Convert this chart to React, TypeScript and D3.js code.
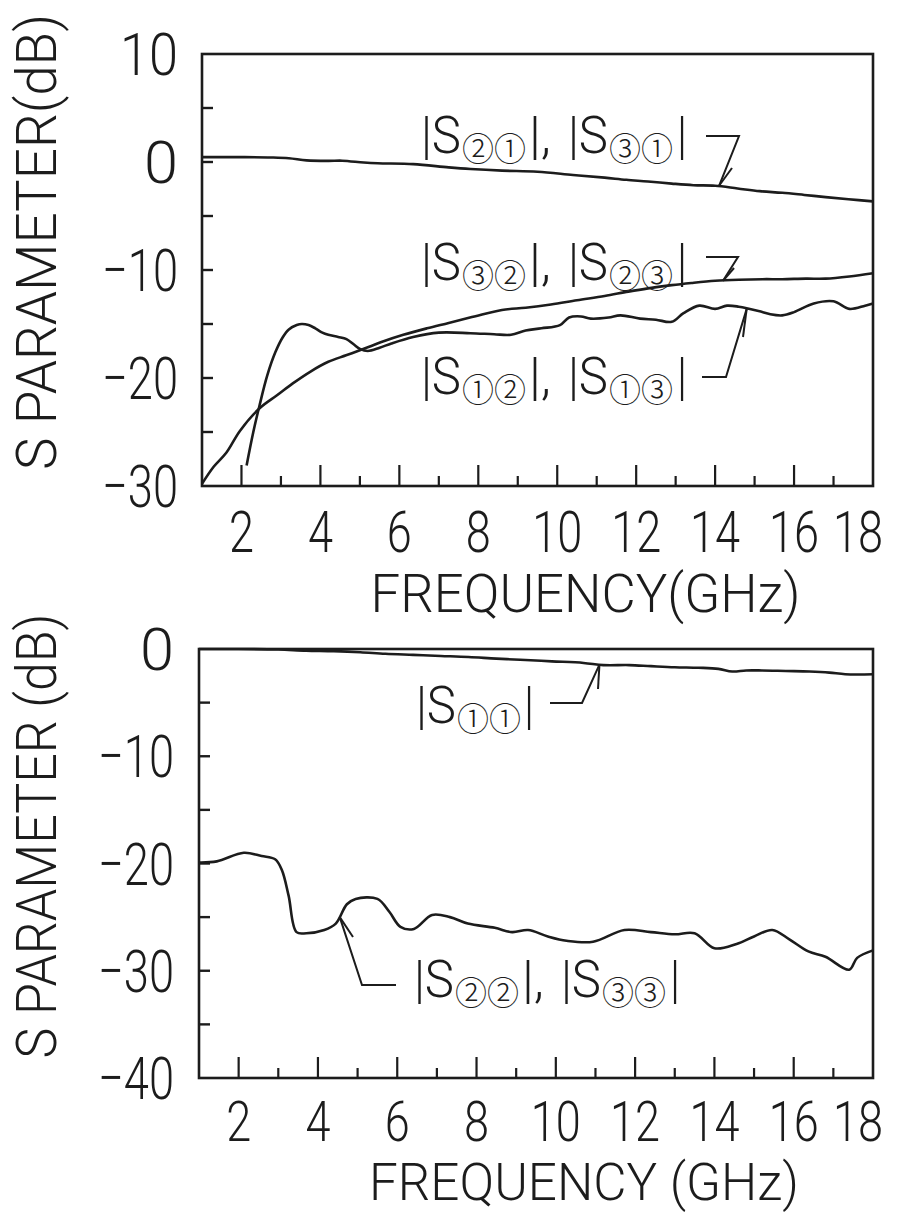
import React from "react";
import * as d3 from "d3";

// ---------- data ----------
const freqTickLabels = [2, 4, 6, 8, 10, 12, 14, 16, 18];
const freqMinorTicks = [3, 5, 7, 9, 11, 13, 15, 17];
const topYLabels = [10, 0, -10, -20, -30];
const topYTicks = [5, 0, -5, -10, -15, -20, -25];
const botYLabels = [0, -10, -20, -30, -40];
const botYTicks = [-5, -10, -15, -20, -25, -30, -35];

// |S21|,|S31|
const s21: [number, number][] = [
  [1, 0.45], [2, 0.45], [2.75, 0.42], [3.2, 0.35], [3.65, 0.15], [4.2, 0.1], [4.55, 0.12],
  [5.1, -0.05], [5.45, -0.12], [6.35, -0.2], [7.25, -0.5], [7.8, -0.65], [8.6, -0.8],
  [9.5, -0.9], [10.4, -1.2], [11.2, -1.45], [11.75, -1.65], [12.3, -1.8], [12.9, -2.0],
  [13.45, -2.15], [14.0, -2.2], [14.57, -2.45], [15.13, -2.7], [15.7, -2.85], [16.26, -3.05],
  [16.8, -3.25], [17.38, -3.45], [18, -3.65],
];
// |S32|,|S23|
const s32: [number, number][] = [
  [1, -29.8], [1.3, -28.2], [1.62, -26.9], [1.96, -24.9], [2.46, -22.8], [2.9, -21.6],
  [3.3, -20.5], [3.75, -19.4], [4.2, -18.5], [4.65, -17.9], [5.1, -17.3], [5.6, -16.6],
  [6.1, -16.0], [6.7, -15.4], [7.25, -14.9], [7.9, -14.3], [8.6, -13.7], [9.2, -13.5],
  [9.84, -13.2], [10.5, -12.8], [11.2, -12.4], [11.8, -12.0], [12.3, -11.7], [12.9, -11.4],
  [13.4, -11.2], [14.0, -11.0], [14.6, -10.9], [15.2, -10.85], [15.7, -10.85], [16.3, -10.8],
  [16.8, -10.8], [17.4, -10.6], [18, -10.3],
];
// |S12|,|S13|
const s12: [number, number][] = [
  [2.13, -28.1], [2.3, -25], [2.46, -22.5], [2.65, -19.8], [2.86, -17.6], [3.05, -16.2],
  [3.2, -15.5], [3.4, -15.1], [3.53, -15.0], [3.7, -15.1], [3.87, -15.4], [4.05, -15.8],
  [4.2, -16.0], [4.45, -16.2], [4.66, -16.4], [4.85, -16.9], [5.0, -17.3], [5.2, -17.5],
  [5.5, -17.2], [5.8, -16.8], [6.35, -16.2], [7.0, -15.8], [7.8, -15.85], [8.4, -15.95],
  [8.83, -16.0], [9.2, -15.6], [9.6, -15.4], [10.07, -15.1], [10.3, -14.4], [10.6, -14.3],
  [10.85, -14.5], [11.3, -14.4], [11.6, -14.2], [12.1, -14.5], [12.5, -14.6], [12.9, -14.8],
  [13.2, -14.0], [13.6, -13.3], [14.0, -13.6], [14.3, -13.3], [14.6, -13.4], [15.1, -13.8],
  [15.4, -14.1], [15.7, -14.2], [16.0, -13.9], [16.5, -13.1], [17.0, -12.9], [17.4, -13.6],
  [17.8, -13.3], [18, -13.1],
];
// |S11|
const s11: [number, number][] = [
  [1, 0.0], [2, 0.0], [3, -0.05], [3.7, -0.15], [4.4, -0.2], [5.07, -0.3], [5.7, -0.45],
  [6.4, -0.55], [7.1, -0.65], [7.8, -0.75], [8.5, -0.9], [9.1, -1.0], [9.9, -1.15],
  [10.7, -1.3], [11.2, -1.5], [11.85, -1.5], [12.4, -1.6], [13.0, -1.7], [13.6, -1.75],
  [14.1, -1.85], [14.45, -2.1], [14.8, -2.0], [15.2, -2.0], [15.8, -2.05], [16.4, -2.1],
  [16.9, -2.2], [17.3, -2.35], [18, -2.35],
];
// |S22|,|S33|
const s22: [number, number][] = [
  [1, -19.9], [1.45, -19.8], [2.13, -19.0], [2.58, -19.3], [2.92, -19.6], [3.09, -20.6],
  [3.26, -23.0], [3.46, -26.4], [3.71, -26.5], [4.16, -26.2], [4.45, -25.6], [4.73, -23.8],
  [4.95, -23.3], [5.5, -23.3], [5.8, -24.5], [6.08, -25.9], [6.42, -26.1], [6.88, -24.8],
  [7.33, -25.0], [7.78, -25.6], [8.46, -26.0], [8.9, -26.4], [9.3, -26.2], [9.8, -26.8],
  [10.27, -27.2], [10.94, -27.3], [11.73, -26.2], [12.4, -26.4], [13.0, -26.6], [13.5, -26.5],
  [14.0, -27.9], [14.56, -27.5], [15.0, -26.8], [15.46, -26.2], [15.9, -27.1], [16.37, -28.2],
  [16.8, -28.7], [17.4, -29.9], [17.6, -28.8], [18, -28.1],
];

// annotation texts
const labelS21 = ["|S", "②①", "|,", "|S", "③①", "|"];
const labelS32 = ["|S", "③②", "|,", "|S", "②③", "|"];
const labelS12 = ["|S", "①②", "|,", "|S", "①③", "|"];
const labelS11 = ["|S", "①①", "|"];
const labelS22 = ["|S", "②②", "|,", "|S", "③③", "|"];

// ---------- layout ----------
const INK = "#1c1c1c";
const FONT = "Roboto, 'Open Sans', 'DejaVu Sans', sans-serif";
const CJK = "'Noto Sans CJK JP', 'DejaVu Sans', sans-serif";
const W = 899;

const topX = d3.scaleLinear().domain([1, 18]).range([202, 873]);
const topY = d3.scaleLinear().domain([-30, 10]).range([486, 54]);
const botX = d3.scaleLinear().domain([1, 18]).range([199, 873]);
const botY = d3.scaleLinear().domain([-40, 0]).range([1078, 649]);

function linePath(x: d3.ScaleLinear<number, number>, y: d3.ScaleLinear<number, number>, data: [number, number][]) {
  return d3
    .line<[number, number]>()
    .x((d) => x(d[0]))
    .y((d) => y(d[1]))
    .curve(d3.curveCatmullRom.alpha(0.5))(data) as string;
}

function fmt(v: number) {
  return v < 0 ? "\u2212" + Math.abs(v) : String(v);
}
function yLabelLen(v: number) {
  if (v === 0) return 34;
  if (v > 0) return 58;
  return 76;
}

// slot layout for annotation pieces: [offset, width, isCircled]
const SLOTS: [number, number, boolean][] = [
  [0, 40, false],
  [41, 64, true],
  [108, 22, false],
  [147, 40, false],
  [188, 64, true],
  [256, 10, false],
];
const SLOTS_SHORT: [number, number, boolean][] = [
  [0, 40, false],
  [41, 64, true],
  [108, 10, false],
];

function Annot({ x, y, pieces }: { x: number; y: number; pieces: string[] }) {
  const slots = pieces.length === 3 ? SLOTS_SHORT : SLOTS;
  return (
    <g fill={INK}>
      {pieces.map((t, i) => {
        const [off, w, circ] = slots[i];
        return (
          <text
            key={i}
            x={x + off}
            y={circ ? y + 8 : y}
            fontFamily={circ ? CJK : FONT}
            fontWeight={300}
            fontSize={circ ? 33 : 52}
            textLength={w}
            lengthAdjust="spacingAndGlyphs"
          >
            {t}
          </text>
        );
      })}
    </g>
  );
}

function Panel({
  x, y, yLabels, yTicks, xLabelBaseline, xLabelSize, titleBaseline, titleSize, title, yTitle, yTitleCenter, yTitleLen, labelRight,
}: {
  x: d3.ScaleLinear<number, number>;
  y: d3.ScaleLinear<number, number>;
  yLabels: number[];
  yTicks: number[];
  xLabelBaseline: number;
  xLabelSize: number;
  titleBaseline: number;
  titleSize: number;
  title: string;
  yTitle: string;
  yTitleCenter: number;
  yTitleLen: number;
  labelRight: number;
}) {
  const [x0, x1] = x.range();
  const [yb, yt] = y.range();
  return (
    <g>
      <rect x={x0} y={yt} width={x1 - x0} height={yb - yt} fill="none" stroke={INK} strokeWidth={2.6} />
      {yTicks.map((v) => (
        <line key={"yt" + v} x1={x0} x2={x0 + 11} y1={y(v)} y2={y(v)} stroke={INK} strokeWidth={2.4} />
      ))}
      {freqTickLabels.slice(0, -1).map((v) => (
        <line key={"xM" + v} x1={x(v)} x2={x(v)} y1={yb} y2={yb - 21} stroke={INK} strokeWidth={2.2} />
      ))}
      {freqMinorTicks.map((v) => (
        <line key={"xm" + v} x1={x(v)} x2={x(v)} y1={yb} y2={yb - 10} stroke={INK} strokeWidth={2.2} />
      ))}
      {yLabels.map((v) => (
        <text
          key={"yl" + v}
          x={labelRight - yLabelLen(v)}
          y={y(v) + 21}
          fontFamily={FONT}
          fontWeight={300}
          fontSize={60}
          textLength={yLabelLen(v)}
          lengthAdjust="spacingAndGlyphs"
          fill={INK}
        >
          {fmt(v)}
        </text>
      ))}
      {freqTickLabels.map((v) => {
        const len = String(v).length * 25;
        const cx = Math.min(x(v), W - 16 - len / 2);
        return (
          <text
            key={"xl" + v}
            x={cx - len / 2}
            y={xLabelBaseline}
            fontFamily={FONT}
            fontWeight={300}
            fontSize={xLabelSize}
            textLength={len}
            lengthAdjust="spacingAndGlyphs"
            fill={INK}
          >
            {v}
          </text>
        );
      })}
      <text
        x={(x0 + x1) / 2 + 48}
        y={titleBaseline}
        textAnchor="middle"
        fontFamily={FONT}
        fontWeight={300}
        fontSize={titleSize}
        textLength={430}
        lengthAdjust="spacingAndGlyphs"
        fill={INK}
      >
        {title}
      </text>
      <text
        transform={`translate(56,${yTitleCenter}) rotate(-90)`}
        textAnchor="middle"
        fontFamily={FONT}
        fontWeight={300}
        fontSize={56}
        textLength={yTitleLen}
        lengthAdjust="spacingAndGlyphs"
        fill={INK}
      >
        {yTitle}
      </text>
    </g>
  );
}

function Leader({ pts, barb }: { pts: [number, number][]; barb: [number, number][] }) {
  return (
    <g fill="none" stroke={INK} strokeWidth={2}>
      <path d={d3.line()(pts) as string} />
      <path d={d3.line()(barb) as string} />
    </g>
  );
}

export default function App() {
  return (
    <svg
      width={W}
      height={1212}
      style={{ position: "absolute", left: 0, top: 0, background: "#fff" }}
    >
      <rect width={W} height={1212} fill="#fff" />
      <Panel
        x={topX}
        y={topY}
        yLabels={topYLabels}
        yTicks={topYTicks}
        xLabelBaseline={552}
        xLabelSize={58}
        titleBaseline={612}
        titleSize={54}
        title="FREQUENCY(GHz)"
        yTitle="S PARAMETER(dB)"
        yTitleCenter={242}
        yTitleLen={456}
        labelRight={178}
      />
      <Panel
        x={botX}
        y={botY}
        yLabels={botYLabels}
        yTicks={botYTicks}
        xLabelBaseline={1141}
        xLabelSize={56}
        titleBaseline={1200}
        titleSize={52}
        title="FREQUENCY (GHz)"
        yTitle="S PARAMETER (dB)"
        yTitleCenter={836}
        yTitleLen={445}
        labelRight={174}
      />

      <g fill="none" stroke={INK} strokeWidth={2.6} strokeLinejoin="round">
        <path d={linePath(topX, topY, s21)} />
        <path d={linePath(topX, topY, s32)} />
        <path d={linePath(topX, topY, s12)} />
        <path d={linePath(botX, botY, s11)} />
        <path d={linePath(botX, botY, s22)} />
      </g>

      {/* annotations */}
      <Annot x={421} y={153} pieces={labelS21} />
      <Leader pts={[[706, 136], [739, 136], [topX(14.1), topY(-2.2)]]} barb={[[topX(14.1), topY(-2.2)], [732, 168]]} />

      <Annot x={421} y={280} pieces={labelS32} />
      <Leader pts={[[706, 257], [738, 257], [topX(14.2), topY(-11.0)]]} barb={[[topX(14.2), topY(-11.0)], [734, 268]]} />

      <Annot x={421} y={394} pieces={labelS12} />
      <Leader pts={[[702, 377], [726, 377], [topX(14.8), topY(-13.6)]]} barb={[[topX(14.8), topY(-13.6)], [743, 337]]} />

      <Annot x={416} y={723} pieces={labelS11} />
      <Leader pts={[[550, 703], [582, 703], [botX(11.1), botY(-1.45)]]} barb={[[botX(11.1), botY(-1.45)], [598, 689]]} />

      <Annot x={414} y={997} pieces={labelS22} />
      <Leader pts={[[botX(4.55), botY(-25.0)], [362, 985], [396, 985]]} barb={[[botX(4.55), botY(-25.0)], [353, 937]]} />
    </svg>
  );
}
